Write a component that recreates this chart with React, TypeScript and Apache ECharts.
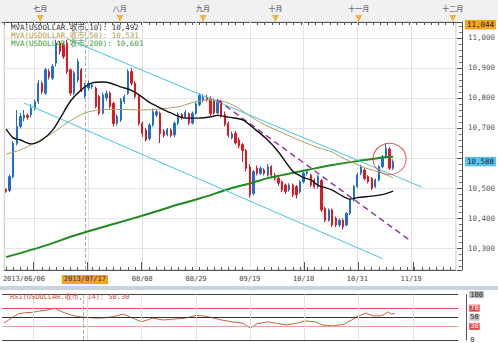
import React, { useEffect, useRef } from 'react';
import * as echarts from 'echarts';

const MONO = "'DejaVu Sans Mono', 'Noto Sans CJK SC', monospace";
const CATEGORY_COUNT = 126;

// [open, close, low, high] per trading day
const candles: number[][] = [
  [10496, 10489, 10484, 10499], [10492, 10538, 10486, 10545], [10538, 10649, 10532, 10656], [10649, 10705, 10642, 10760],
  [10705, 10738, 10698, 10750], [10733, 10742, 10722, 10760], [10742, 10736, 10728, 10748], [10744, 10766, 10736, 10780],
  [10766, 10788, 10758, 10795], [10788, 10849, 10780, 10860], [10849, 10821, 10812, 10856], [10816, 10894, 10810, 10900],
  [10888, 10871, 10862, 10896], [10866, 10905, 10860, 10912], [10916, 10983, 10905, 10994], [10983, 10955, 10945, 10990],
  [10977, 10938, 10930, 10985], [10983, 10888, 10880, 10994], [10894, 10816, 10808, 10898], [10816, 10883, 10810, 10890],
  [10860, 10921, 10852, 10930], [10894, 10827, 10820, 10900], [10805, 10844, 10798, 10850], [10833, 10849, 10825, 10858],
  [10838, 10844, 10830, 10850], [10833, 10771, 10765, 10838], [10805, 10749, 10742, 10810], [10749, 10810, 10745, 10818],
  [10800, 10815, 10790, 10825], [10816, 10771, 10765, 10822], [10782, 10715, 10705, 10788], [10715, 10738, 10708, 10745],
  [10727, 10793, 10720, 10800], [10788, 10804, 10780, 10812], [10816, 10888, 10810, 10895], [10888, 10849, 10842, 10900],
  [10849, 10805, 10798, 10856], [10805, 10715, 10708, 10810], [10715, 10682, 10670, 10722], [10693, 10660, 10655, 10700],
  [10665, 10710, 10658, 10716], [10710, 10754, 10704, 10765], [10743, 10754, 10736, 10760], [10749, 10682, 10650, 10755],
  [10690, 10675, 10668, 10696], [10678, 10695, 10672, 10700], [10693, 10675, 10668, 10699], [10677, 10716, 10670, 10722],
  [10716, 10745, 10710, 10752], [10745, 10735, 10728, 10750], [10735, 10752, 10730, 10760], [10748, 10716, 10710, 10752],
  [10716, 10749, 10712, 10755], [10749, 10780, 10744, 10786], [10778, 10808, 10772, 10815], [10792, 10803, 10785, 10812],
  [10803, 10795, 10788, 10810], [10797, 10747, 10740, 10805], [10790, 10750, 10745, 10798], [10750, 10790, 10745, 10797],
  [10790, 10740, 10735, 10795], [10745, 10712, 10705, 10755], [10715, 10675, 10668, 10722], [10668, 10680, 10662, 10688],
  [10682, 10650, 10645, 10690], [10660, 10640, 10632, 10668], [10645, 10625, 10588, 10650], [10625, 10565, 10555, 10630],
  [10570, 10477, 10468, 10580], [10482, 10555, 10476, 10560], [10566, 10549, 10542, 10575], [10549, 10566, 10543, 10572],
  [10560, 10549, 10542, 10566], [10543, 10571, 10538, 10580], [10571, 10543, 10536, 10576], [10543, 10533, 10525, 10550],
  [10533, 10516, 10508, 10538], [10521, 10494, 10486, 10526], [10510, 10488, 10480, 10515], [10494, 10510, 10488, 10516],
  [10510, 10477, 10470, 10515], [10505, 10477, 10465, 10510], [10488, 10521, 10482, 10526], [10521, 10549, 10515, 10555],
  [10549, 10554, 10542, 10560], [10543, 10510, 10504, 10548], [10527, 10504, 10498, 10532], [10504, 10538, 10498, 10543],
  [10525, 10427, 10420, 10530], [10432, 10393, 10386, 10438], [10393, 10427, 10388, 10432], [10427, 10377, 10370, 10432],
  [10399, 10377, 10370, 10405], [10377, 10393, 10370, 10398], [10393, 10371, 10362, 10399], [10377, 10416, 10372, 10420],
  [10416, 10460, 10410, 10465], [10460, 10505, 10455, 10510], [10505, 10543, 10500, 10550], [10549, 10571, 10543, 10578],
  [10560, 10532, 10526, 10566], [10538, 10521, 10515, 10543], [10532, 10499, 10493, 10537], [10505, 10527, 10500, 10532],
  [10527, 10571, 10522, 10576], [10571, 10604, 10566, 10610], [10604, 10632, 10598, 10649], [10630, 10566, 10560, 10636],
  [10566, 10588, 10560, 10595],
];

// moving averages: [dayIndex, value]
const maShort: number[][] = [
  [0, 10697], [2, 10667], [4, 10660], [7, 10647], [10, 10660], [13, 10693], [15, 10730], [18, 10790], [21, 10827],
  [24, 10850], [27, 10853], [29, 10850], [32, 10837], [35, 10825], [38, 10803], [40, 10785], [43, 10767], [46, 10750],
  [50, 10733], [54, 10733], [57, 10737], [59, 10742], [62, 10736], [66, 10727], [69, 10700], [73, 10660], [76, 10620],
  [80, 10556], [83, 10535], [85, 10527], [87, 10510], [91, 10493], [94, 10472], [96, 10463], [98, 10468], [102, 10473],
  [105, 10478], [108, 10490],
];
const ma50: number[][] = [
  [0, 10613], [4, 10627], [8, 10650], [13, 10683], [17, 10717], [22, 10750], [26, 10760], [31, 10762], [38, 10760],
  [43, 10763], [46, 10767], [49, 10773], [52, 10785], [56, 10793], [59, 10792], [62, 10783], [65, 10765], [68, 10740],
  [72, 10712], [76, 10690], [82, 10658], [87, 10635], [91, 10620], [94, 10600], [100, 10568], [105, 10550], [108, 10533],
];
const ma200: number[][] = [
  [0, 10270], [10, 10305], [20, 10345], [30, 10380], [40, 10415], [48, 10445], [54, 10465], [63, 10500], [68, 10515],
  [73, 10533], [77, 10543], [84, 10560], [91, 10577], [100, 10593], [105, 10602], [108, 10604],
];

// trend lines
const channelUpper: number[][] = [[17, 10997], [116, 10503]];
const channelLower: number[][] = [[5, 10783], [105, 10265]];
const purpleTrend: number[][] = [[59, 10793], [113, 10323]];
const circleMark: number[][] = [[107, 10597]];

// RSI(14)
const rsi: number[][] = [
  [0, 37], [2, 48], [4, 58], [6, 60], [8, 61], [10, 64], [12, 66], [14, 70], [16, 62], [18, 56], [20, 52], [22, 50],
  [24, 49], [26, 48], [28, 49], [30, 51], [33, 57], [35, 50], [38, 40], [40, 45], [41, 48], [44, 44], [47, 46], [50, 48],
  [53, 54], [55, 53], [57, 50], [60, 44], [63, 40], [66, 37], [68, 26], [70, 36], [73, 40], [75, 37], [78, 33], [81, 37],
  [83, 42], [86, 40], [88, 33], [91, 31], [94, 35], [96, 44], [98, 53], [100, 59], [102, 53], [104, 53], [105, 56],
  [106, 62], [107, 57], [108, 58.3],
];

const dateLabelIdx = [5, 22, 38, 53, 68, 83, 98, 113];
const dateLabels = ['2013/06/06', '2013/07/17', '08/08', '08/29', '09/19', '10/10', '10/31', '11/19'];
const cursorIdx = 22;
const gridLineIdx = [8, 23, 38, 53, 68, 83, 98, 113];
const monthIdx = [10, 32, 55, 75, 98, 124];
const monthNames = ['七月', '八月', '九月', '十月', '十一月', '十二月'];
const priceTicksShown = [10300, 10400, 10500, 10700, 10800, 10900, 11000];

const legendTexts = [
  'MVA(USDOLLAR.收市,10): 10,492',
  'MVA(USDOLLAR.收市,50): 10,531',
  'MVA(USDOLLAR.收市,200): 10,601',
];
const rsiLegend = 'RSI(USDOLLAR.收市, 14): 58.30';
const cursorPrice = 11044;
const lastPrice = 10588;

function makeDates(): string[] {
  const out: string[] = [];
  const d = new Date(Date.UTC(2013, 5, 14));
  while (out.length < CATEGORY_COUNT) {
    const wd = d.getUTCDay();
    if (wd !== 0 && wd !== 6) {
      out.push(
        `${d.getUTCFullYear()}/${String(d.getUTCMonth() + 1).padStart(2, '0')}/${String(d.getUTCDate()).padStart(2, '0')}`
      );
    }
    d.setUTCDate(d.getUTCDate() + 1);
  }
  return out;
}

const fmt = (v: number) => `${Math.floor(v / 1000)},${String(Math.round(v % 1000)).padStart(3, '0')}`;

const UP = '#1f6fd1';
const DOWN = '#e0191f';

function buildOption(): any {
  const dates = makeDates();
  const G = { left: 2.24, width: 456 };
  const labelMap: Record<number, string> = {};
  dateLabelIdx.forEach((i, k) => (labelMap[i] = dateLabels[k]));
  const monthMap: Record<number, string> = {};
  monthIdx.forEach((i, k) => (monthMap[i] = monthNames[k]));

  const vGrid = gridLineIdx.map((i) => ({ xAxis: i, lineStyle: { color: '#e2e2e2', type: 'solid', width: 1 } }));

  return {
    animation: false,
    backgroundColor: '#ffffff',
    textStyle: { fontFamily: MONO },
    grid: [
      { ...G, top: 22, height: 248, show: true, borderColor: '#c8c8c8', borderWidth: 1, backgroundColor: '#fff' },
      { ...G, top: 15, height: 7 },
      { ...G, top: 294.5, height: 45.5 },
      { ...G, top: 22, height: 248 },
    ],
    xAxis: [
      {
        type: 'category', gridIndex: 0, data: dates, boundaryGap: true, position: 'bottom',
        axisLine: { show: true, lineStyle: { color: '#555' } },
        axisTick: { show: true, inside: true, length: 3, alignWithLabel: true, interval: (i: number) => i % 2 === 0, lineStyle: { color: '#555' } },
        axisLabel: {
          show: true, margin: 5, fontSize: 7, color: '#444', fontFamily: MONO,
          interval: (i: number) => labelMap[i] !== undefined,
          formatter: (_v: string, i: number) => (i === cursorIdx ? `{hl|${labelMap[i]}}` : labelMap[i] || ''),
          rich: { hl: { backgroundColor: '#f5a31a', color: '#333', padding: [1, 2, 1, 2], fontSize: 7, fontFamily: MONO } },
        },
        splitLine: { show: false },
      },
      {
        type: 'category', gridIndex: 1, data: dates, boundaryGap: true, position: 'top',
        axisLine: { show: true, lineStyle: { color: '#555' } },
        axisTick: { show: true, inside: true, length: 3, alignWithLabel: true, interval: (i: number) => i % 2 === 0, lineStyle: { color: '#555' } },
        axisLabel: {
          show: true, margin: 4, fontSize: 7, color: '#444', fontFamily: "'Noto Sans CJK SC', sans-serif",
          interval: (i: number) => monthMap[i] !== undefined,
          formatter: (_v: string, i: number) => monthMap[i] || '',
        },
        splitLine: { show: false },
      },
      { type: 'category', gridIndex: 2, data: dates, boundaryGap: true, show: false },
      {
        type: 'category', gridIndex: 3, data: dates, boundaryGap: true, position: 'bottom',
        axisLine: { show: false },
        axisTick: { show: true, inside: true, length: 8, alignWithLabel: true, interval: (i: number) => i % 15 === 8, lineStyle: { color: '#555' } },
        axisLabel: { show: false },
        splitLine: { show: false },
      },
    ],
    yAxis: [
      {
        type: 'value', gridIndex: 0, position: 'right', offset: 6, min: 10227, max: 11053, splitNumber: 8,
        axisLine: { show: true, lineStyle: { color: '#555' } },
        axisTick: { show: true, inside: true, length: 5, lineStyle: { color: '#555' } },
        minorTick: { show: true, splitNumber: 5, length: 3, lineStyle: { color: '#777' } },
        axisLabel: {
          margin: 6, fontSize: 7.5, color: '#555', fontFamily: MONO, showMinLabel: false, showMaxLabel: false,
          formatter: (v: number) => (priceTicksShown.some((t) => Math.abs(t - v) < 0.01) ? fmt(v) : ''),
        },
        splitLine: { show: true, lineStyle: { color: '#e6e6e6' } },
        minorSplitLine: { show: false },
      },
      { type: 'value', gridIndex: 1, min: 0, max: 1, show: false },
      {
        type: 'value', gridIndex: 2, position: 'right', offset: 8, min: 0, max: 100, interval: 100,
        axisLine: { show: true, lineStyle: { color: '#555' } },
        axisTick: { show: false }, axisLabel: { show: false }, splitLine: { show: false },
      },
      { type: 'value', gridIndex: 3, min: 0, max: 1, show: false },
    ],
    series: [
      {
        type: 'candlestick', xAxisIndex: 0, yAxisIndex: 0, z: 3,
        data: candles.map((c) => [c[0], c[1], c[2], c[3]]),
        barWidth: 1.8,
        itemStyle: { color: UP, color0: DOWN, borderColor: UP, borderColor0: DOWN, borderWidth: 1 },
        markLine: {
          silent: true, symbol: ['none', 'none'], z: 6,
          lineStyle: { type: 'solid', color: 'rgba(0,0,0,0)', width: 0 },
          label: { show: true, position: 'end', distance: 9, fontSize: 7.5, fontFamily: MONO, padding: [1, 2, 1, 2], color: '#222' },
          data: [
            { yAxis: cursorPrice, label: { formatter: fmt(cursorPrice), backgroundColor: '#f5a31a' } },
            { yAxis: lastPrice, label: { formatter: fmt(lastPrice), backgroundColor: '#57c2f2' } },
          ],
        },
      },
      {
        type: 'line', name: 'ma200', xAxisIndex: 0, yAxisIndex: 0, z: 4, data: ma200, showSymbol: false, smooth: 0.3,
        lineStyle: { color: '#1f8a1f', width: 2 },
        markLine: {
          silent: true, symbol: ['none', 'none'], z: 1, label: { show: false },
          lineStyle: { type: 'solid', color: '#e2e2e2', width: 1 },
          data: [...vGrid, { xAxis: cursorIdx, lineStyle: { color: '#b0b0b0', type: 'dashed', width: 1 } }],
        },
      },
      { type: 'line', name: 'ma50', xAxisIndex: 0, yAxisIndex: 0, z: 4, data: ma50, showSymbol: false, smooth: 0.3, lineStyle: { color: '#b0a060', width: 1 } },
      { type: 'line', name: 'maShort', xAxisIndex: 0, yAxisIndex: 0, z: 5, data: maShort, showSymbol: false, smooth: 0.3, lineStyle: { color: '#111', width: 1.4 } },
      { type: 'line', xAxisIndex: 0, yAxisIndex: 0, z: 4, data: channelUpper, showSymbol: false, lineStyle: { color: '#45c6e6', width: 1 } },
      { type: 'line', xAxisIndex: 0, yAxisIndex: 0, z: 4, data: channelLower, showSymbol: false, lineStyle: { color: '#45c6e6', width: 1 } },
      { type: 'line', xAxisIndex: 0, yAxisIndex: 0, z: 4, data: purpleTrend, showSymbol: false, lineStyle: { color: '#9a3a9e', width: 1.5, type: [6, 4] } },
      {
        type: 'scatter', xAxisIndex: 0, yAxisIndex: 0, z: 6, data: circleMark, symbol: 'circle', symbolSize: [33, 31],
        itemStyle: { color: 'rgba(0,0,0,0)', borderColor: '#e03a3a', borderWidth: 1 },
      },
      {
        type: 'scatter', xAxisIndex: 1, yAxisIndex: 1, data: monthIdx.map((i) => [i, 0.5]),
        symbol: 'triangle', symbolRotate: 180, symbolSize: [7, 7], itemStyle: { color: '#f2a31c' },
      },
      {
        type: 'line', xAxisIndex: 2, yAxisIndex: 2, z: 4, data: rsi, showSymbol: false,
        lineStyle: { color: '#c8643c', width: 1 },
        markLine: {
          silent: true, symbol: ['none', 'none'],
          lineStyle: { type: 'solid', width: 1 },
          label: { show: true, position: 'end', distance: 11, fontSize: 7, fontFamily: MONO, padding: [0, 1, 0, 1] },
          data: [
            { yAxis: 100, lineStyle: { color: '#444' }, label: { formatter: '100', backgroundColor: '#b8b8b8', color: '#333' } },
            { yAxis: 70, lineStyle: { color: '#e05050' }, label: { formatter: '70', backgroundColor: '#e84545', color: '#fff' } },
            { yAxis: 50, lineStyle: { color: '#333' }, label: { formatter: '50', backgroundColor: '#c8c8c8', color: '#333' } },
            { yAxis: 30, lineStyle: { color: '#f29a9a' }, label: { formatter: '30', backgroundColor: '#e84545', color: '#fff' } },
            { yAxis: 0, lineStyle: { color: '#444' }, label: { formatter: '0', color: '#333' } },
            ...gridLineIdx.map((i) => ({ xAxis: i, lineStyle: { color: '#e2e2e2' }, label: { show: false } })),
            { xAxis: cursorIdx, lineStyle: { color: '#b0b0b0', type: 'dashed' }, label: { show: false } },
          ],
        },
      },
    ],
    graphic: [
      { type: 'rect', z: -10, silent: true, shape: { x: 0, y: 0, width: 498, height: 22 }, style: { fill: '#f1f1f1' } },
      { type: 'rect', z: -10, silent: true, shape: { x: 0, y: 286, width: 498, height: 4 }, style: { fill: '#c9d3de' } },
      ...legendTexts.map((t, k) => ({
        type: 'text', z: 100, silent: true, x: 11, y: 27 + k * 8,
        style: { text: t, fill: ['#333', '#b09a4a', '#3a9a3a'][k], font: `7.5px ${MONO}`, textVerticalAlign: 'middle' },
      })),
      {
        type: 'text', z: 100, silent: true, x: 10, y: 297,
        style: { text: rsiLegend, fill: '#d04a3a', font: `7px ${MONO}`, textVerticalAlign: 'middle' },
      },
    ],
  };
}

export default function App() {
  const ref = useRef<HTMLDivElement>(null);
  useEffect(() => {
    if (!ref.current) return;
    const chart = echarts.init(ref.current, null, { renderer: 'svg' });
    chart.setOption(buildOption());
    return () => chart.dispose();
  }, []);
  return <div ref={ref} style={{ position: 'fixed', left: 0, top: 0, width: 498, height: 343 }} />;
}
